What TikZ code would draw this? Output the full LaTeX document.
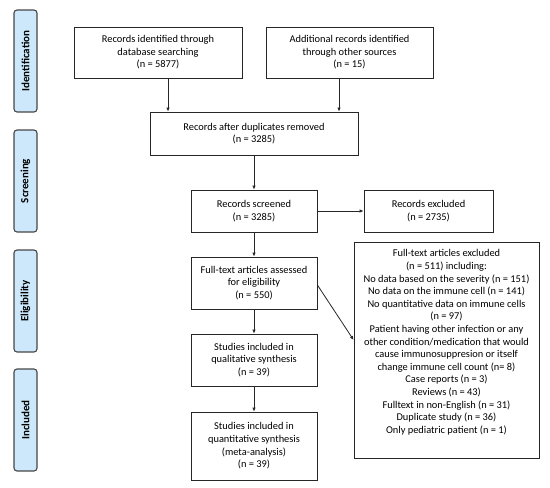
\documentclass[tikz,border=0pt]{standalone}
\usepackage{fontspec}
\setmainfont{Carlito}
\usetikzlibrary{arrows.meta}
\definecolor{sidefill}{RGB}{204,232,250}
\definecolor{sidedraw}{RGB}{70,70,70}
\begin{document}
\begin{tikzpicture}[x=1pt,y=-1pt,
  txt/.style={align=center, inner sep=0pt, font=\fontsize{10.4}{12.6}\selectfont},
  box/.style={txt, draw=black!85, line width=0.8pt},
  side/.style={draw=sidedraw, fill=sidefill, line width=1.1pt, rounded corners=3pt,
    minimum width=23pt, minimum height=102pt, inner sep=0pt},
  sidetext/.style={rotate=90, font=\fontsize{11}{12}\selectfont\bfseries},
  arr/.style={draw=black!85, line width=0.8pt, -{Latex[length=4pt,width=3.5pt]}}]
\useasboundingbox (0,0) rectangle (550,488);
% side labels
\node[side] (s1) at (25.5,61) {};
\node[sidetext] (t1) at (s1.center) {Identification};
\node[side] (s2) at (25.5,181) {};
\node[sidetext] (t2) at (s2.center) {Screening};
\node[side] (s3) at (25.5,301) {};
\node[sidetext] (t3) at (s3.center) {Eligibility};
\node[side] (s4) at (25.5,420) {};
\node[sidetext] (t4) at (s4.center) {Included};
% boxes
\node[box, minimum width=168pt, minimum height=51pt] (b1) at (158,52.5)
  {Records identified through\\database searching\\(n = 5877)};
\node[box, minimum width=167pt, minimum height=51pt] (b2) at (349.5,52.5)
  {Additional records identified\\through other sources\\(n = 15)};
\node[box, minimum width=208pt, minimum height=43pt] (b3) at (254,133.5)
  {Records after duplicates removed\\(n = 3285)};
\node[box, minimum width=126pt, minimum height=42pt] (b4) at (254,211)
  {Records screened\\(n = 3285)};
\node[box, minimum width=129pt, minimum height=42pt] (b5) at (428.5,211)
  {Records excluded\\(n = 2735)};
\node[box, minimum width=126pt, minimum height=52pt] (b6) at (254,283)
  {Full-text articles assessed\\for eligibility\\(n = 550)};
\node[box, minimum width=126pt, minimum height=52pt] (b7) at (254,360)
  {Studies included in\\qualitative synthesis\\(n = 39)};
\node[box, minimum width=126pt, minimum height=68pt] (b8) at (254,446)
  {Studies included in\\quantitative synthesis\\(meta-analysis)\\(n = 39)};
\node[box, minimum width=185pt, minimum height=216pt] (b9) at (446.5,350) {};
\node[txt, anchor=north] (b9t) at (446.5,249.5)
  {Full-text articles excluded\\(n = 511) including:\\
   No data based on the severity (n = 151)\\
   No data on the immune cell (n = 141)\\
   No quantitative data on immune cells\\(n = 97)\\
   Patient having other infection or any\\
   other condition/medication that would\\
   cause immunosuppresion or itself\\
   change immune cell count (n= 8)\\
   Case reports (n = 3)\\
   Reviews (n = 43)\\
   Fulltext in non-English (n = 31)\\
   Duplicate study (n = 36)\\
   Only pediatric patient (n = 1)};
% connectors
\draw[arr] ([xshift=10pt]b1.south) -- ([xshift=10pt]b1.south |- b3.north);
\draw[arr] ([xshift=-10.5pt]b2.south) -- ([xshift=-10.5pt]b2.south |- b3.north);
\draw[arr] (b3) -- (b4);
\draw[arr] (b4) -- (b5);
\draw[arr] (b4) -- (b6);
\draw[arr] (b6) -- (b7);
\draw[arr] (b7) -- (b8);
\draw[arr] ([yshift=-2pt]b6.east) -- ([yshift=10pt]b9.west);
\end{tikzpicture}
\end{document}
